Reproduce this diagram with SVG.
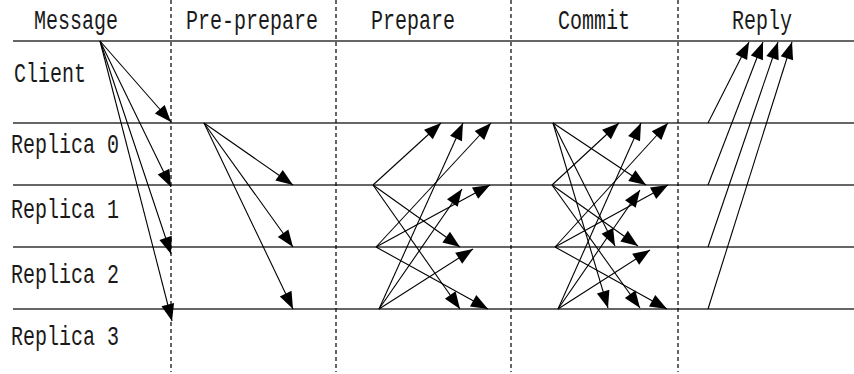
<svg xmlns="http://www.w3.org/2000/svg" width="854" height="374" viewBox="0 0 854 374">
<style>
.t{font-family:"Liberation Mono","DejaVu Sans Mono",monospace;font-size:20px;fill:#1a1a1a}
.h{stroke:#333;stroke-width:1.4;fill:none}
.d{stroke:#000;stroke-width:1.2;stroke-dasharray:4 3;fill:none}
.a{stroke:#000;stroke-width:1.1;fill:none;marker-end:url(#ah)}
</style>
<defs>
<marker id="ah" markerUnits="userSpaceOnUse" markerWidth="18" markerHeight="14" refX="17" refY="6.5" orient="auto" overflow="visible">
<path d="M0,0 L17,6.5 L0,13 Z" fill="#000"/>
</marker>
</defs>
<rect width="854" height="374" fill="#fff"/>
<g id="grid">
<line class="h" x1="13" y1="41" x2="854" y2="41"/>
<line class="h" x1="13" y1="123" x2="854" y2="123"/>
<line class="h" x1="13" y1="185" x2="854" y2="185"/>
<line class="h" x1="13" y1="247" x2="854" y2="247"/>
<line class="h" x1="13" y1="309" x2="854" y2="309"/>
<line class="d" x1="171" y1="0" x2="171" y2="372"/>
<line class="d" x1="336" y1="0" x2="336" y2="372"/>
<line class="d" x1="511" y1="0" x2="511" y2="372"/>
<line class="d" x1="678" y1="0" x2="678" y2="372"/>
</g>
<g id="headers">
<text class="t" text-anchor="middle" transform="translate(76,29) scale(1,1.4)">Message</text>
<text class="t" text-anchor="middle" transform="translate(252,29) scale(1,1.4)">Pre-prepare</text>
<text class="t" text-anchor="middle" transform="translate(413,29) scale(1,1.4)">Prepare</text>
<text class="t" text-anchor="middle" transform="translate(594,29) scale(1,1.4)">Commit</text>
<text class="t" text-anchor="middle" transform="translate(762,29) scale(1,1.4)">Reply</text>
</g>
<g id="client"><text class="t" transform="translate(14,82) scale(1,1.4)">Client</text></g>
<g id="replica0"><text class="t" transform="translate(11,153) scale(1,1.4)">Replica 0</text></g>
<g id="replica1"><text class="t" transform="translate(11,218) scale(1,1.4)">Replica 1</text></g>
<g id="replica2"><text class="t" transform="translate(11,283) scale(1,1.4)">Replica 2</text></g>
<g id="replica3"><text class="t" transform="translate(11,345) scale(1,1.4)">Replica 3</text></g>
<g id="connectors">
<line class="a" x1="100" y1="41" x2="171" y2="122"/>
<line class="a" x1="100" y1="41" x2="171" y2="187"/>
<line class="a" x1="100" y1="41" x2="171" y2="254"/>
<line class="a" x1="100" y1="41" x2="172" y2="321"/>
<line class="a" x1="204" y1="123" x2="293" y2="185"/>
<line class="a" x1="204" y1="123" x2="293" y2="247"/>
<line class="a" x1="204" y1="123" x2="293" y2="309"/>
<line class="a" x1="373" y1="185" x2="441" y2="123"/>
<line class="a" x1="373" y1="185" x2="460" y2="247"/>
<line class="a" x1="373" y1="185" x2="460" y2="309"/>
<line class="a" x1="376" y1="247" x2="491" y2="123"/>
<line class="a" x1="376" y1="247" x2="490" y2="185"/>
<line class="a" x1="376" y1="247" x2="488" y2="309"/>
<line class="a" x1="379" y1="309" x2="463" y2="123"/>
<line class="a" x1="379" y1="309" x2="462" y2="189"/>
<line class="a" x1="379" y1="309" x2="473" y2="249"/>
<line class="a" x1="553" y1="123" x2="646" y2="185"/>
<line class="a" x1="553" y1="123" x2="615" y2="246"/>
<line class="a" x1="553" y1="123" x2="608" y2="308"/>
<line class="a" x1="552" y1="185" x2="619" y2="123"/>
<line class="a" x1="552" y1="185" x2="638" y2="246"/>
<line class="a" x1="552" y1="185" x2="640" y2="308"/>
<line class="a" x1="555" y1="247" x2="668" y2="123"/>
<line class="a" x1="555" y1="247" x2="668" y2="185"/>
<line class="a" x1="555" y1="247" x2="667" y2="309"/>
<line class="a" x1="558" y1="309" x2="641" y2="123"/>
<line class="a" x1="558" y1="309" x2="640" y2="190"/>
<line class="a" x1="558" y1="309" x2="650" y2="250"/>
<line class="a" x1="708" y1="123" x2="749" y2="42"/>
<line class="a" x1="708" y1="185" x2="763" y2="42"/>
<line class="a" x1="708" y1="247" x2="778" y2="42"/>
<line class="a" x1="708" y1="309" x2="792" y2="42"/>
</g>
</svg>
